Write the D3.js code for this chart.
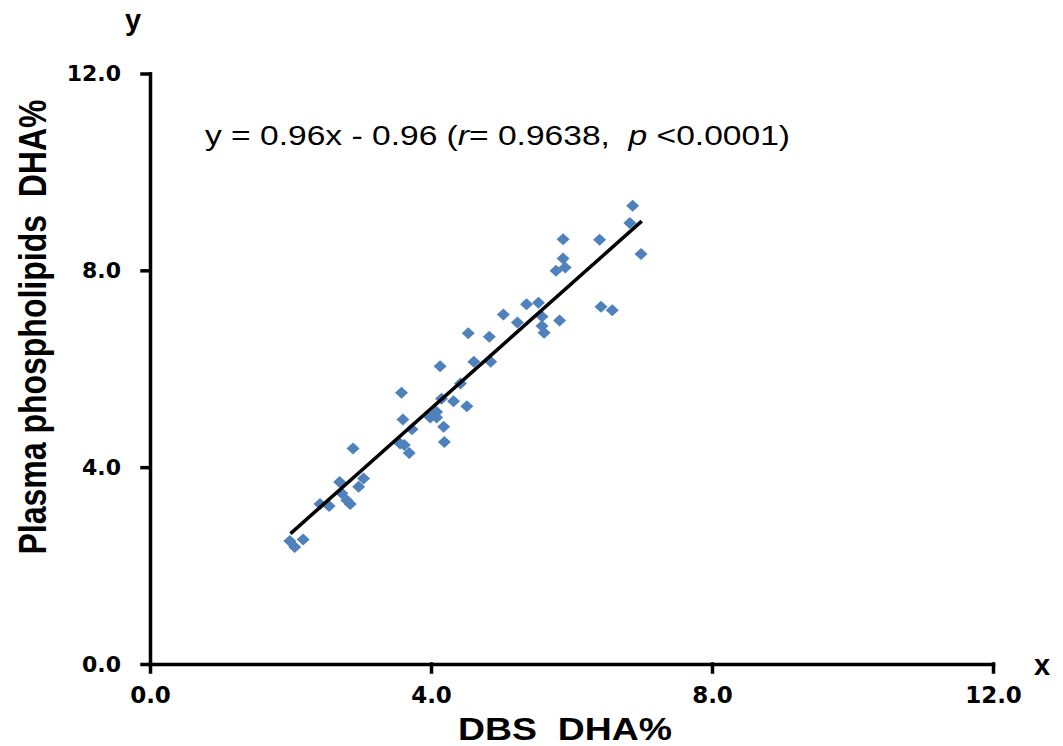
<!DOCTYPE html>
<html>
<head>
<meta charset="utf-8">
<script src="https://cdn.jsdelivr.net/npm/d3@7"></script>
<style>
  body { margin: 0; background: #fff; }
  text { white-space: pre; }
  .axis text { font-family: "DejaVu Sans", Verdana, sans-serif; font-weight: bold; fill: #000; }
</style>
</head>
<body>
<script>
// DBS DHA% (x) vs plasma phospholipids DHA% (y)
var dbsDHA = [6.87, 6.83, 6.99, 5.88, 6.40, 5.88, 5.91, 5.78, 5.36, 5.53,
              5.03, 5.23, 5.58, 5.58, 5.61, 5.83, 6.42, 6.58, 4.53, 4.83,
              4.61, 4.85, 4.13, 4.42, 3.58, 4.15, 4.32, 4.51, 4.08, 3.99,
              4.08, 3.60, 3.73, 4.18, 4.19, 3.56, 3.62, 3.69, 2.89, 2.70,
              3.04, 2.97, 2.73, 2.80, 2.85, 2.42, 2.55, 2.18, 1.99, 2.06];
var plasmaDHA = [9.31, 8.96, 8.33, 8.63, 8.62, 8.24, 8.06, 7.99, 7.31, 7.34,
                 7.10, 6.94, 7.06, 6.87, 6.73, 6.98, 7.26, 7.19, 6.72, 6.65,
                 6.14, 6.14, 6.05, 5.70, 5.51, 5.39, 5.34, 5.24, 5.12, 5.01,
                 5.01, 4.97, 4.77, 4.82, 4.51, 4.48, 4.45, 4.29, 4.38, 3.70,
                 3.77, 3.60, 3.47, 3.33, 3.25, 3.25, 3.21, 2.53, 2.50, 2.38];

// fitted line as drawn (two end points)
var fitX = [2.0, 7.0];
var fitY = [2.65, 9.0];

var xTicks = [0, 4, 8, 12];
var yTicks = [0, 4, 8, 12];

var width = 1063, height = 746;

var svg = d3.select("body").append("svg")
    .attr("width", width)
    .attr("height", height);

var x = d3.scaleLinear().domain([0, 12]).range([150, 993]);
var y = d3.scaleLinear().domain([0, 12]).range([664, 73.5]);

// axes
var gx = svg.append("g")
    .attr("class", "axis")
    .attr("transform", "translate(0,664)")
    .call(d3.axisBottom(x).tickValues(xTicks).tickSize(8).tickSizeOuter(0).tickPadding(15)
      .tickFormat(d3.format(".1f")));
gx.selectAll("text").style("font-size", "23px");

var gy = svg.append("g")
    .attr("class", "axis")
    .attr("transform", "translate(150,0)")
    .call(d3.axisLeft(y).tickValues(yTicks).tickSize(8).tickSizeOuter(0).tickPadding(21)
      .tickFormat(d3.format(".1f")));
gy.selectAll("text").style("font-size", "22px");

svg.selectAll(".axis path, .axis line")
    .attr("stroke", "#000")
    .attr("stroke-width", 3.5)
    .attr("stroke-linecap", "square");

// diamond markers
function diamond(w, h) {
  return "M0," + (-h / 2) + "L" + (w / 2) + ",0L0," + (h / 2) + "L" + (-w / 2) + ",0Z";
}
var pts = dbsDHA.map(function(d, i) { return {x: d, y: plasmaDHA[i]}; });

svg.append("g").selectAll("path")
    .data(pts)
  .enter().append("path")
    .attr("d", diamond(13, 12))
    .attr("transform", function(d) { return "translate(" + x(d.x) + "," + y(d.y) + ")"; })
    .attr("fill", "#4F81BD");

// regression line
var line = d3.line()
    .x(function(d) { return x(d[0]); })
    .y(function(d) { return y(d[1]); });
svg.append("path")
    .attr("d", line(fitX.map(function(d, i) { return [d, fitY[i]]; })))
    .attr("stroke", "#000")
    .attr("stroke-width", 3.5)
    .attr("fill", "none");

// equation
var eq = svg.append("text")
    .attr("x", 205)
    .attr("y", 145)
    .attr("textLength", 585)
    .attr("lengthAdjust", "spacingAndGlyphs")
    .style("font-family", "'Liberation Sans', Arial, sans-serif")
    .style("font-size", "27px")
    .attr("fill", "#000");
eq.append("tspan").text("y = 0.96x - 0.96 (");
eq.append("tspan").style("font-style", "italic").text("r");
eq.append("tspan").text("= 0.9638,  ");
eq.append("tspan").style("font-style", "italic").text("p");
eq.append("tspan").text(" <0.0001)");

// axis titles
svg.append("text")
    .attr("x", 565)
    .attr("y", 740)
    .attr("text-anchor", "middle")
    .attr("textLength", 214)
    .attr("lengthAdjust", "spacingAndGlyphs")
    .style("font-family", "'Liberation Sans', Arial, sans-serif")
    .style("font-weight", "bold")
    .style("font-size", "31px")
    .text("DBS  DHA%");

svg.append("text")
    .attr("transform", "translate(46,327) rotate(-90)")
    .attr("text-anchor", "middle")
    .attr("textLength", 455)
    .attr("lengthAdjust", "spacingAndGlyphs")
    .style("font-family", "'Liberation Sans', Arial, sans-serif")
    .style("font-weight", "bold")
    .style("font-size", "39px")
    .text("Plasma phospholipids  DHA%");

// small axis letters
svg.append("text")
    .attr("x", 133).attr("y", 30)
    .attr("text-anchor", "middle")
    .style("font-family", "'Liberation Sans', Arial, sans-serif")
    .style("font-weight", "bold")
    .style("font-size", "29px")
    .text("y");

svg.append("text")
    .attr("x", 1042).attr("y", 675)
    .attr("text-anchor", "middle")
    .style("font-family", "'Liberation Sans', Arial, sans-serif")
    .style("font-weight", "bold")
    .style("font-size", "29px")
    .text("x");
</script>
</body>
</html>
